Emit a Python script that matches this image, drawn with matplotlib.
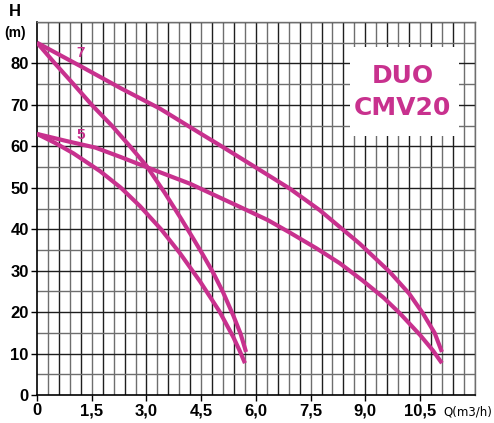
import matplotlib
matplotlib.use('Agg')
import matplotlib.pyplot as plt
import numpy as np

# Data (Q in m3/h, H in m)
q_7_single = [0, 0.49, 1.0, 1.5, 2.05, 2.55, 3.0, 3.5, 3.96, 4.3, 4.55, 4.83, 5.1, 5.38, 5.58, 5.73]
h_7_single = [85, 80, 75, 70, 65, 60, 55.3, 48.8, 42.4, 37.5, 33.8, 29.5, 24.8, 19.2, 14.8, 10.4]

q_5_single = [0, 0.5, 1.0, 1.73, 2.3, 2.82, 3.4, 3.92, 4.47, 5.0, 5.38, 5.55, 5.7]
h_5_single = [63, 60.8, 58.3, 54.0, 50.0, 45.6, 40.0, 34.2, 27.4, 20.2, 14, 10.8, 7.7]

q_7_duo = [0, 1.18, 2.3, 3.37, 4.5, 5.1, 6.2, 6.93, 7.75, 8.85, 9.67, 10.2, 10.58, 10.9, 11.1]
h_7_duo = [85, 79.4, 74, 69.1, 63, 59.8, 53.8, 49.8, 44.6, 36.5, 29.7, 24.5, 19.7, 15, 10.4]

q_5_duo = [0, 0.8, 1.6, 2.3, 3.0, 4.19, 5.56, 6.33, 6.93, 7.66, 8.3, 8.93, 9.5, 9.95, 10.5, 10.85, 11.1]
h_5_duo = [63, 61.3, 59.7, 57.4, 55.0, 51, 45.4, 42.2, 39.2, 35.4, 31.8, 27.6, 23.5, 19.7, 14.5, 10.8, 7.7]

x_ticks = [0, 1.5, 3.0, 4.5, 6.0, 7.5, 9.0, 10.5]
x_tick_labels = ['0', '1,5', '3,0', '4,5', '6,0', '7,5', '9,0', '10,5']
y_ticks = [0, 10, 20, 30, 40, 50, 60, 70, 80]

pink = '#C8318E'
grid_dark = '#1e1e1e'
grid_light = '#6e6e6e'

fig = plt.figure(figsize=(4.94, 4.23), dpi=100)
ax = fig.add_axes([0.075, 0.066, 0.886, 0.882])
ax.set_xlim(0, 12)
ax.set_ylim(0, 90)

# Grid: vertical every 0.3, horizontal every 5
for i, gx in enumerate(np.arange(0.3, 12.01, 0.3)):
    ax.axvline(gx, color=grid_dark if i % 2 else grid_light, lw=1.0, zorder=1)
for i, gy in enumerate(np.arange(5, 90.1, 5)):
    ax.axhline(gy, color=grid_dark if i % 2 else grid_light, lw=1.0, zorder=1)

# White box for title
ax.add_patch(plt.Rectangle((8.58, 62.4), 2.98, 21.5, facecolor='white',
                           edgecolor='none', zorder=2))
ax.text(10.03, 76.9, 'DUO', color=pink, fontsize=18, fontweight='bold',
        ha='center', va='center', zorder=3)
ax.text(10.03, 69.2, 'CMV20', color=pink, fontsize=18, fontweight='bold',
        ha='center', va='center', zorder=3)

# Curves
for q, h in [(q_7_single, h_7_single), (q_5_single, h_5_single),
             (q_7_duo, h_7_duo), (q_5_duo, h_5_duo)]:
    ax.plot(q, h, color=pink, lw=3.0, solid_capstyle='butt',
            solid_joinstyle='round', zorder=4)

ax.text(1.2, 82.5, '7', color=pink, fontsize=11, fontweight='bold',
        family='Liberation Sans', ha='center', va='center', zorder=5)
ax.text(1.2, 62.7, '5', color=pink, fontsize=11, fontweight='bold',
        family='Liberation Sans', ha='center', va='center', zorder=5)

# Axes styling
for side in ['top', 'right']:
    ax.spines[side].set_color(grid_light)
    ax.spines[side].set_linewidth(1.0)
for side in ['left', 'bottom']:
    ax.spines[side].set_color('black')
    ax.spines[side].set_linewidth(1.2)

ax.set_xticks(x_ticks)
ax.set_xticklabels(x_tick_labels, fontsize=12, fontweight='bold',
                   family='Liberation Sans')
ax.set_yticks(y_ticks)
ax.set_yticklabels([str(v) for v in y_ticks], fontsize=12, fontweight='bold',
                   family='Liberation Sans')
ax.tick_params(axis='both', direction='out', length=4, width=1.0, color='black', pad=2)

fig.text(15 / 494, 1 - 12 / 423, 'H', fontsize=12, fontweight='bold',
         family='Liberation Sans', ha='center', va='center')
fig.text(15 / 494, 1 - 33 / 423, '(m)', fontsize=10, fontweight='bold',
         family='Liberation Sans', ha='center', va='center')
fig.text(492 / 494, 1 - 412 / 423, 'Q(m3/h)', fontsize=8.5,
         family=['Liberation Sans Narrow', 'DejaVu Sans'], ha='right', va='center')

plt.savefig('out.png', dpi=100)
